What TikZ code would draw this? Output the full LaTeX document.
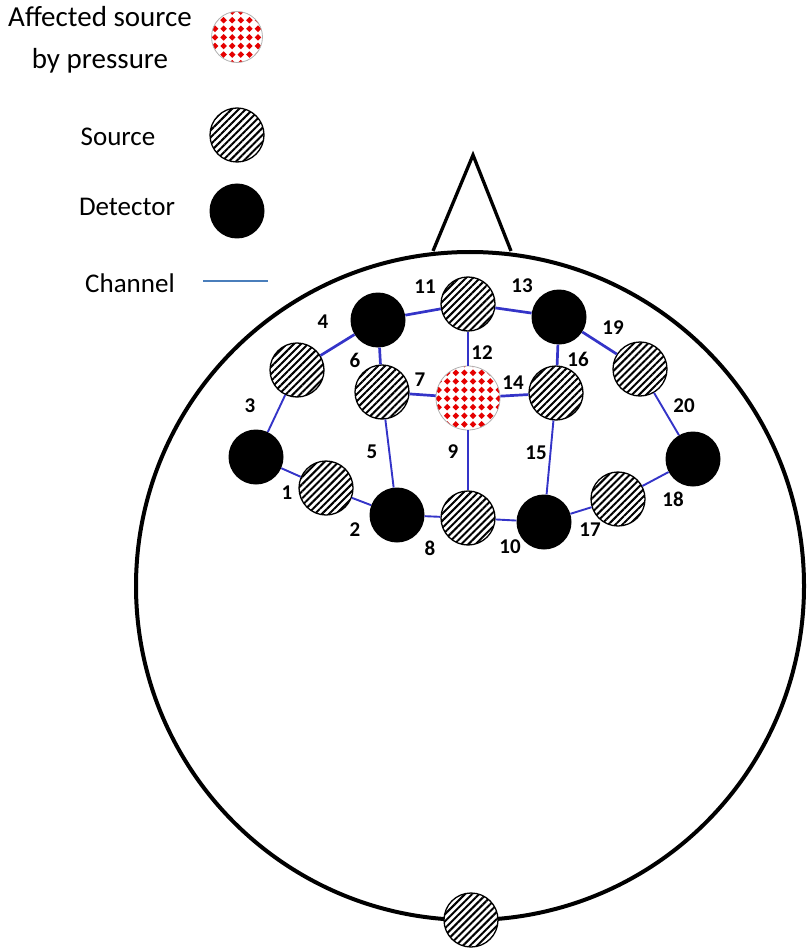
\documentclass[tikz,border=0pt]{standalone}
\usepackage{fontspec}
\setmainfont{Carlito}
\usetikzlibrary{patterns.meta}
\definecolor{chanblue}{RGB}{52,52,200}
\definecolor{legblue}{RGB}{74,126,187}
\tikzdeclarepattern{
	name=reddiamonds,
	type=colored,
	bottom left={(-4.3pt,-4.3pt)},
	top right={(4.3pt,4.3pt)},
	tile size={(8.6pt,8.6pt)},
	code={\fill[red!90!black] (0pt,-3.3pt) -- (3.3pt,0pt) -- (0pt,3.3pt) -- (-3.3pt,0pt) -- cycle;}
}

\begin{document}
\begin{tikzpicture}[x=1pt,y=-1pt,
	det/.style={circle,fill=black,minimum size=55pt,inner sep=0},
	src/.style={circle,draw=black,line width=1.3pt,minimum size=54pt,inner sep=0,
		preaction={fill=white},pattern={Lines[angle=45,distance=5pt,line width=2pt]}},
	hit/.style={circle,draw=black!30,line width=.8pt,minimum size=64pt,inner sep=0,
		preaction={fill=white},pattern=reddiamonds},
	chan/.style={draw=chanblue,line width=1.9pt},
	thickchan/.style={draw=chanblue,line width=2.7pt},
	lbl/.style={font=\fontsize{21}{22}\selectfont\bfseries},
	legtext/.style={font=\fontsize{27}{30}\selectfont,align=center}]
	\useasboundingbox (0,0) rectangle (807,949);
	%head and nose
	\draw[line width=4pt] (470,586) circle[radius=334];
	\draw[line width=3.3pt,line join=miter] (433,251) -- (473,155) -- (511,251);
	%% legend
	\node[legtext,font=\fontsize{29}{42}\selectfont] (lhit) at (100,40){Affected source\\by pressure};
	\node[hit,minimum size=51pt] (khit) at (237,37){};
	\node[legtext] (lsrc) at (118,137){Source};
	\node[src] (ksrc) at (237,135){};
	\node[legtext] (ldet) at (127,207){Detector};
	\node[det] (kdet) at (237,211){};
	\node[legtext] (lchan) at (130,283){Channel};
	\coordinate (kc1) at (203,281); \coordinate (kc2) at (268,281);
	\draw[legblue,line width=2.8pt] (kc1) -- (kc2);
	%% detectors and sources placed by hand
	\node[det] (d1) at (256,457){}; \node[det] (d2) at (397,515){};
	\node[det] (d3) at (378,320){}; \node[det] (d4) at (559,317){};
	\node[det] (d5) at (544,522){}; \node[det] (d6) at (693,459){};
	\node[src] (s1) at (326,488){}; \node[src] (s2) at (297,370){};
	\node[src] (s3) at (382,392){}; \node[src] (s4) at (468,304){};
	\node[src] (s5) at (468,518){}; \node[src] (s6) at (556,393){};
	\node[src] (s7) at (640,369){}; \node[src] (s8) at (618,499){};
	\node[hit] (a) at (468,398){};
	\node[src] (s9) at (471,920){};
	%% channels
	\draw[thickchan] (s2) -- (d3) -- (s4) -- (d4) -- (s7);
	\draw[thickchan] (d3) -- (s3) -- (a) -- (s6) -- (d4);
	\draw[thickchan] (s4) -- (a);
	\draw[chan] (s2) -- (d1) -- (s1) -- (d2) -- (s5) -- (d5) -- (s8) -- (d6) -- (s7);
	\draw[chan] (s3) -- (d2);
	\draw[chan] (a) -- (s5);
	\draw[chan] (s6) -- (d5);
	%% channel numbers drawn with a loop
	\foreach \n/\x/\y in {1/287/493,2/355/530,3/250/406,4/323/322,5/372/452,
		6/355/360,7/420/380,8/430/548,9/453/452,10/510/547,11/425/287,
		12/482/353,13/522/286,14/513/383,15/536/453,16/578/359,
		17/590/530,18/673/499,19/613/328,20/684/406}{
		\node[lbl] (n\n) at (\x,\y){\n};
		}
\end{tikzpicture}
\end{document}
